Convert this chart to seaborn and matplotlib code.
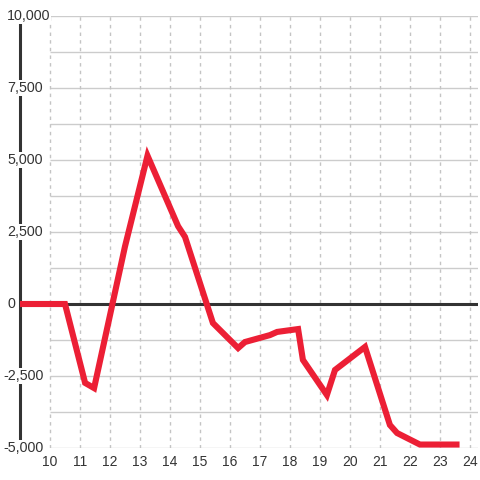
import matplotlib
matplotlib.use("Agg")
import matplotlib.pyplot as plt
import seaborn as sns
import pandas as pd

# data
x_vals = [9.0, 10.5, 11.17, 11.47, 12.5, 13.25, 14.27, 14.5, 15.43, 16.27, 16.5,
          17.33, 17.57, 18.27, 18.43, 19.23, 19.5, 20.5, 21.33, 21.57, 22.33, 23.55]
y_vals = [0, 0, -2740, -2920, 2000, 5150, 2700, 2330, -660, -1530, -1320,
          -1080, -970, -870, -1940, -3160, -2290, -1490, -4200, -4480, -4880, -4880]
x_ticks = list(range(10, 25))
x_tick_labels = [str(t) for t in x_ticks]
y_ticks = [-5000, -2500, 0, 2500, 5000, 7500, 10000]
y_tick_labels = ["-5,000", "-2,500", "0", "2,500", "5,000", "7,500", "10,000"]
y_grid = [-5000, -3750, -2500, -1250, 1250, 2500, 3750, 5000, 6250, 7500, 8750, 10000]

sns.set_style("white")
plt.rcParams['font.family'] = ['Liberation Sans', 'DejaVu Sans']

fig = plt.figure(figsize=(4.8, 4.8), dpi=100)
ax = fig.add_axes([20/480, 1-448/480, 458/480, 432/480])
xmin, xmax = 9.0, 9 + 458/30
ax.set_xlim(xmin, xmax)
ax.set_ylim(-5000, 10000)

grid_col = '#cccccc'
ax.hlines(y_grid, 10, xmax, colors=grid_col, linewidth=1, zorder=1)
ax.vlines(x_ticks, -5000, 10000, colors='#c4c4c4', linewidth=1,
          linestyles=(0, (2.5, 3)), zorder=1)
ax.axhline(0, color='#333333', linewidth=2.2, zorder=2)

df = pd.DataFrame({"x": x_vals, "y": y_vals})
sns.lineplot(data=df, x="x", y="y", sort=False, ax=ax, color='#ec1f35',
             linewidth=4.4, zorder=3)
ax.lines[-1].set_solid_joinstyle('miter')
ax.lines[-1].set_solid_capstyle('projecting')

for s in ['top', 'right', 'bottom']:
    ax.spines[s].set_visible(False)
ax.spines['left'].set_linewidth(2.2)
ax.spines['left'].set_color('#333333')
ax.spines['left'].set_bounds(-5000, 9700)
ax.spines['left'].set_zorder(2)

ax.set_xticks(x_ticks)
ax.set_xticklabels(x_tick_labels)
ax.set_yticks([])
ax.tick_params(axis='x', length=0, pad=5, labelsize=10, labelcolor='#333333')
ax.set_xlabel("")
ax.set_ylabel("")

for v, lab in zip(y_ticks, y_tick_labels):
    xpos = 9 - (17 if lab.startswith('-') else 13) / 30
    ax.text(xpos, v, lab, ha='left', va='center', fontsize=10.3, color='#333333',
            bbox=dict(facecolor='white', edgecolor='none', pad=0.5), zorder=2.5,
            clip_on=False)

fig.savefig("out.png", dpi=100)
